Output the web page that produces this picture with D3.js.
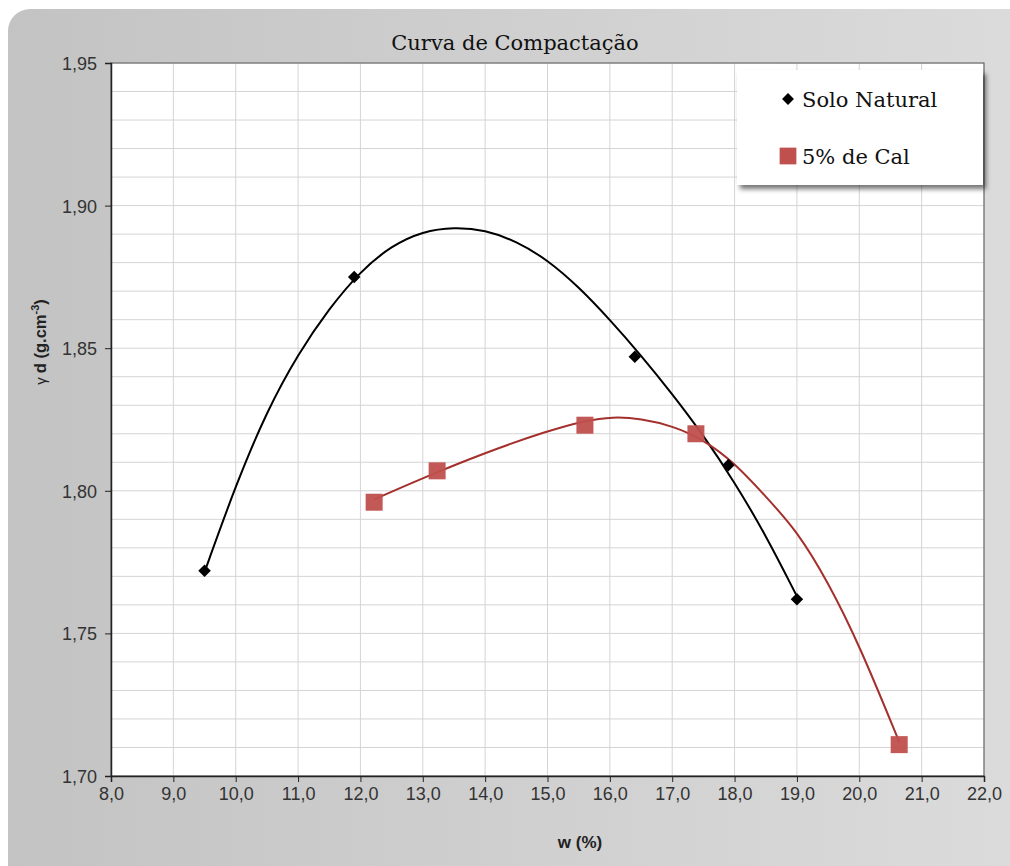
<!DOCTYPE html>
<html>
<head>
<meta charset="utf-8">
<title>Curva de Compactação</title>
<script src="https://cdn.jsdelivr.net/npm/d3@7"></script>
<style>
  body { margin: 0; background: #fff; }
  svg { display: block; }
</style>
</head>
<body>
<script>

// data
var soloW = [9.5, 11.9, 16.4, 17.9, 19.0];
var soloD = [1.772, 1.875, 1.847, 1.809, 1.762];
var calW = [12.22, 13.23, 15.6, 17.38, 20.64];
var calD = [1.796, 1.807, 1.823, 1.820, 1.711];

// trendline samples
var soloTrendW = [9.50, 10.00, 10.50, 11.00, 11.50, 12.00, 12.50, 13.00, 13.50, 14.00, 14.50, 15.00, 15.50, 16.00, 16.50, 17.00, 17.50, 18.00, 18.50, 19.00];
var soloTrendD = [1.7715, 1.8020, 1.8280, 1.8480, 1.8640, 1.8770, 1.8860, 1.8910, 1.8925, 1.8915, 1.8875, 1.8810, 1.8715, 1.8600, 1.8475, 1.8340, 1.8195, 1.8030, 1.7845, 1.7630];
var calTrendW = [12.22, 13.00, 14.00, 15.00, 15.60, 16.05, 16.50, 17.00, 17.50, 18.00, 18.50, 19.00, 19.50, 20.00, 20.64];
var calTrendD = [1.7970, 1.8045, 1.8134, 1.8210, 1.8246, 1.8260, 1.8253, 1.8228, 1.8180, 1.8098, 1.7980, 1.7860, 1.7680, 1.7460, 1.7120];

var xTicks = d3.range(8, 22.001, 1);
var yTicks = [1.70, 1.75, 1.80, 1.85, 1.90, 1.95];
var yGrid = d3.range(170, 195.5, 1).map(function(d) { return d / 100; });

var seriesNames = ["Solo Natural", "5% de Cal"];

var W = 1010, H = 866;
var margin = {top: 63, right: 26, bottom: 90, left: 111};
var width = W - margin.left - margin.right,
    height = H - margin.top - margin.bottom;

var x = d3.scaleLinear().domain([8, 22]).range([0, width]);
var y = d3.scaleLinear().domain([1.70, 1.95]).range([height, 0]);
var fmt = function(d) { return d3.format(".1f")(d).replace(".", ","); };
var fmtY = function(d) { return d3.format(".2f")(d).replace(".", ","); };

var svg = d3.select("body").append("svg")
  .attr("width", W)
  .attr("height", H);

var defs = svg.append("defs");
var grad = defs.append("linearGradient").attr("id", "bg")
  .attr("x1", 0).attr("x2", 1).attr("y1", 0).attr("y2", 0);
grad.append("stop").attr("offset", "0%").attr("stop-color", "#c3c3c3");
grad.append("stop").attr("offset", "100%").attr("stop-color", "#dcdcdc");

var shadow = defs.append("filter").attr("id", "shadow")
  .attr("x", "-10%").attr("y", "-10%").attr("width", "130%").attr("height", "140%");
shadow.append("feDropShadow").attr("dx", 3).attr("dy", 4).attr("stdDeviation", 2.5)
  .attr("flood-color", "#000").attr("flood-opacity", 0.55);

// chart panel
svg.append("rect")
  .attr("x", 8).attr("y", 9)
  .attr("width", W + 30).attr("height", H + 30)
  .attr("rx", 22)
  .attr("fill", "url(#bg)");

svg.append("text")
  .attr("x", 515).attr("y", 50)
  .attr("text-anchor", "middle")
  .style("font-family", "'DejaVu Serif', serif")
  .style("font-size", "21px")
  .attr("fill", "#111")
  .text("Curva de Compactação");

var g = svg.append("g")
  .attr("transform", "translate(" + margin.left + "," + margin.top + ")");

g.append("rect").attr("width", width).attr("height", height).attr("fill", "#fff");

// gridlines
g.append("g").selectAll("line").data(yGrid).enter().append("line")
  .attr("x1", 0).attr("x2", width)
  .attr("y1", function(d) { return y(d); }).attr("y2", function(d) { return y(d); })
  .attr("stroke", "#d4d4d4").attr("stroke-width", 1);
g.append("g").selectAll("line").data(xTicks).enter().append("line")
  .attr("y1", 0).attr("y2", height)
  .attr("x1", function(d) { return x(d); }).attr("x2", function(d) { return x(d); })
  .attr("stroke", "#d4d4d4").attr("stroke-width", 1);

g.append("rect").attr("width", width).attr("height", height)
  .attr("fill", "none").attr("stroke", "#555").attr("stroke-width", 1);

// axes
var xAxis = g.append("g")
  .attr("transform", "translate(0," + height + ")")
  .call(d3.axisBottom(x).tickValues(xTicks).tickFormat(fmt).tickSizeOuter(0).tickSize(6).tickPadding(5));
var yAxis = g.append("g")
  .call(d3.axisLeft(y).tickValues(yTicks).tickFormat(fmtY).tickSizeOuter(0).tickSize(6).tickPadding(8));

[xAxis, yAxis].forEach(function(a) {
  a.select(".domain").attr("stroke", "#222").attr("stroke-width", 1.5);
  a.selectAll(".tick line").attr("stroke", "#222");
  a.selectAll("text")
    .style("font-family", "'Liberation Sans', Arial, sans-serif")
    .style("font-size", "18px")
    .attr("fill", "#333");
});
yAxis.selectAll("text").attr("dy", "0.36em");

// axis titles
svg.append("text")
  .attr("x", 580).attr("y", 848)
  .attr("text-anchor", "middle")
  .style("font-family", "'Liberation Sans', Arial, sans-serif")
  .style("font-size", "17px")
  .style("font-weight", "bold")
  .attr("fill", "#222")
  .text("w (%)");

var yt = svg.append("text")
  .attr("transform", "translate(46,342) rotate(-90)")
  .attr("text-anchor", "middle")
  .style("font-family", "'Liberation Sans', Arial, sans-serif")
  .style("font-size", "16.5px")
  .style("font-weight", "bold")
  .attr("fill", "#222");
yt.append("tspan").style("font-weight", "normal").style("font-size", "15px").text("γ ");
yt.append("tspan").text("d (g.cm");
yt.append("tspan").attr("dy", -7).style("font-size", "11px").text("-3");
yt.append("tspan").attr("dy", 7).text(")");

// trendlines
var line = d3.line()
  .x(function(d) { return x(d[0]); })
  .y(function(d) { return y(d[1]); })
  .curve(d3.curveBasis);

g.append("path")
  .datum(soloTrendW.map(function(w, i) { return [w, soloTrendD[i]]; }))
  .attr("d", line).attr("fill", "none")
  .attr("stroke", "#000").attr("stroke-width", 2);

g.append("path")
  .datum(calTrendW.map(function(w, i) { return [w, calTrendD[i]]; }))
  .attr("d", line).attr("fill", "none")
  .attr("stroke", "#a3302c").attr("stroke-width", 2);

// markers
var diamond = d3.symbol().type(d3.symbolDiamond2).size(100);

g.selectAll(".solo").data(soloW).enter().append("path")
  .attr("class", "solo")
  .attr("d", diamond)
  .attr("transform", function(d, i) { return "translate(" + x(d) + "," + y(soloD[i]) + ")"; })
  .attr("fill", "#000");

g.selectAll(".cal").data(calW).enter().append("rect")
  .attr("class", "cal")
  .attr("x", function(d) { return x(d) - 8.5; })
  .attr("y", function(d, i) { return y(calD[i]) - 8.5; })
  .attr("width", 17).attr("height", 17)
  .attr("fill", "#c0504d").attr("fill-opacity", 0.95);

// legend
var lg = svg.append("g").attr("transform", "translate(737,70)");
lg.append("rect").attr("width", 246).attr("height", 115)
  .attr("fill", "#fff").attr("filter", "url(#shadow)");

var items = lg.selectAll(".item").data(seriesNames).enter().append("g")
  .attr("class", "item")
  .attr("transform", function(d, i) { return "translate(0," + (29 + i * 57) + ")"; });

items.append("path")
  .attr("d", function(d, i) {
    return i === 0 ? d3.symbol().type(d3.symbolDiamond2).size(90)() : d3.symbol().type(d3.symbolSquare).size(280)();
  })
  .attr("transform", "translate(51,0)")
  .attr("fill", function(d, i) { return i === 0 ? "#000" : "#c0504d"; });

items.append("text")
  .attr("x", 65).attr("y", 8)
  .style("font-family", "'DejaVu Serif', serif")
  .style("font-size", "21px")
  .attr("fill", "#111")
  .text(function(d) { return d; });

</script>
</body>
</html>
